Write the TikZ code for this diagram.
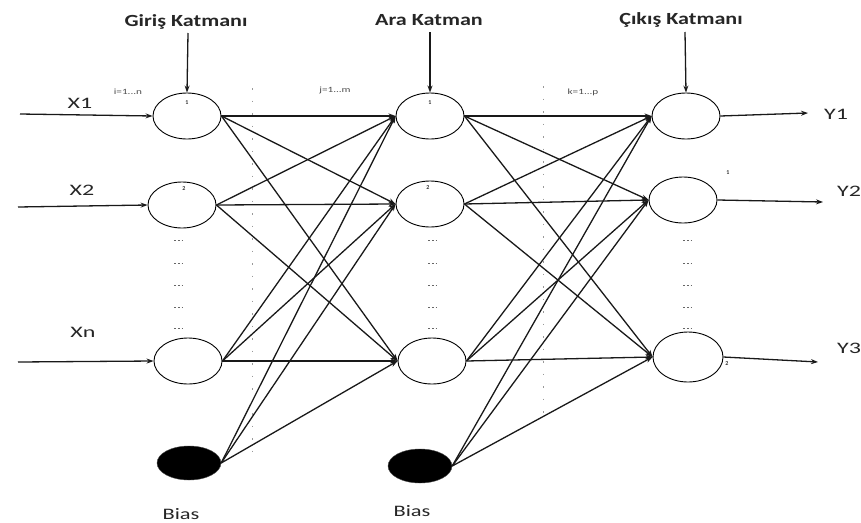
\documentclass[tikz,border=0pt]{standalone}
\usepackage{fontspec}
\setmainfont{Carlito}
\usepackage{graphicx}
\usetikzlibrary{shapes.geometric,arrows.meta}

\begin{document}
\begin{tikzpicture}[x=1pt,y=-1pt,
  neuron/.style={ellipse,draw,line width=0.9pt,minimum width=68pt,minimum height=46pt,inner sep=0pt},
  biasnode/.style={ellipse,fill=black,draw=black!70,minimum width=64pt,minimum height=34pt,inner sep=0pt},
  link/.style={line width=1.3pt,black!90,-{Stealth[length=7pt,width=5pt]}},
  title/.style={font=\fontsize{17}{19}\selectfont\bfseries,text=black!85},
  lbl/.style={font=\fontsize{16}{18}\selectfont,text=black!85},
  idx/.style={font=\fontsize{8}{9}\selectfont,text=black!70},
  tiny/.style={font=\fontsize{6}{7}\selectfont\bfseries,text=black!80},
  faint/.style={black!40,line width=0.7pt,dash pattern=on 1.5pt off 11pt}
]
\useasboundingbox (0,0) rectangle (861,522);

% faint guide columns between the layers
\draw[faint] (252,88) -- (252,462);
\draw[faint] (543,86) -- (543,420);

% neurons
\node[neuron] (in1) at (187,116) {};
\node[neuron] (in2) at (182,205) {};
\node[neuron] (inn) at (188,361) {};
\node[biasnode] (b1) at (189,463) {};

\node[neuron] (h1) at (430,116) {};
\node[neuron] (h2) at (430,204) {};
\node[neuron] (h3) at (432,361) {};
\node[biasnode] (b2) at (420,466) {};

\node[neuron] (o1) at (686,116) {};
\node[neuron] (o2) at (683,200) {};
\node[neuron,minimum height=50pt,minimum width=70pt] (o3) at (688,357) {};

% neuron indices
\node[tiny] (n1) at (187,103) {1};
\node[tiny] (n2) at (184,189) {2};
\node[tiny] (n3) at (430,103) {1};
\node[tiny] (n4) at (428,188) {2};
\node[tiny] (n5) at (728,173) {1};
\node[tiny] (n6) at (727,364) {2};

% ellipsis marks below the second neuron of each layer
\foreach \yy in {240,263,285,307,328}{
  \draw[black!60,line width=0.9pt,dash pattern=on 2.2pt off 1.6pt] (174,\yy) -- (182,\yy);
  \draw[black!60,line width=0.9pt,dash pattern=on 2.2pt off 1.6pt] (428,\yy) -- (436,\yy);
  \draw[black!60,line width=0.9pt,dash pattern=on 2.2pt off 1.6pt] (683,\yy) -- (691,\yy);
}

% layer titles and their pointers
\node[title] (tin) at (186,22) {\scalebox{1.3}[1]{Giriş Katmanı}};
\node[title] (thid) at (429,20) {\scalebox{1.3}[1]{Ara Katman}};
\node[title] (tout) at (681,20) {\scalebox{1.3}[1]{Çıkış Katmanı}};
\coordinate (pin) at (188,33);
\coordinate (phid) at (430,32);
\coordinate (pout) at (685,32);
\draw[link] (pin) -- (in1.north);
\draw[link] (phid) -- (h1.north);
\draw[link] (pout) -- (o1.north);

% inputs
\node[lbl] (lx1) at (80,103) {\scalebox{1.5}[1]{X1}};
\node[lbl] (lx2) at (82,190) {\scalebox{1.5}[1]{X2}};
\node[lbl] (lxn) at (83,332) {\scalebox{1.5}[1]{Xn}};
\coordinate (x1) at (20,114);
\coordinate (x2) at (18,207);
\coordinate (xn) at (18,362);
\draw[link] (x1) -- (in1.west);
\draw[link] (x2) -- (in2.west);
\draw[link] (xn) -- (inn.west);

% index ranges
\node[idx] (ri) at (128,92) {\scalebox{1.4}[1]{i=1...n}};
\node[idx] (rj) at (335,90) {\scalebox{1.4}[1]{j=1...m}};
\node[idx] (rk) at (583,92) {\scalebox{1.4}[1]{k=1...p}};

% input layer to hidden layer
\foreach \s in {in1,in2,inn,b1}{
  \foreach \t in {h1,h2,h3}{
    \draw[link] (\s.east) -- (\t.west);
  }
}

% hidden layer to output layer
\foreach \s in {h1,h2,h3,b2}{
  \foreach \t in {o1,o2,o3}{
    \draw[link] (\s.east) -- (\t.west);
  }
}

% outputs
\coordinate (y1) at (808,113);
\coordinate (y2) at (823,202);
\coordinate (y3) at (818,362);
\draw[link] (o1.east) -- (y1);
\draw[link] (o2.east) -- (y2);
\draw[link] (o3.east) -- (y3);
\node[lbl] (ly1) at (836,114) {\scalebox{1.5}[1]{Y1}};
\node[lbl] (ly2) at (849,191) {\scalebox{1.5}[1]{Y2}};
\node[lbl] (ly3) at (849,348) {\scalebox{1.5}[1]{Y3}};

% bias labels
\node[lbl] (lb1) at (181,514) {\scalebox{1.4}[1]{Bias}};
\node[lbl] (lb2) at (412,511) {\scalebox{1.4}[1]{Bias}};
\end{tikzpicture}
\end{document}
